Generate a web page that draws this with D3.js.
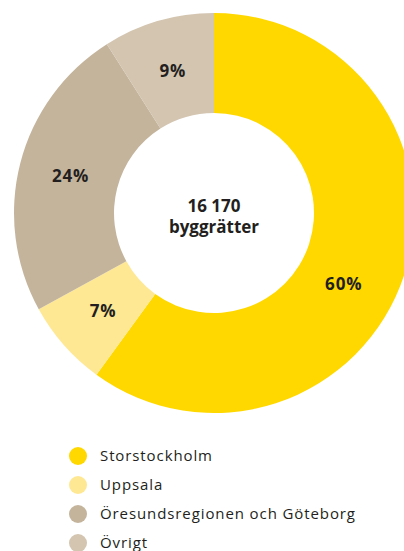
<!DOCTYPE html>
<html>
  <head>
    <meta charset="utf-8">
    <style>
      body { margin: 0; background: #fff; }
      .pct { font-family: "Open Sans", sans-serif; font-weight: 700; font-size: 17px; fill: #231f20; letter-spacing: 0.8px; }
      .total { font-family: "Open Sans", sans-serif; font-weight: 700; font-size: 17px; fill: #231f20; }
      .legend text { font-family: "Open Sans", sans-serif; font-size: 15px; fill: #231f20; letter-spacing: 0.9px; }
    </style>
  </head>
  <body>
    <script src="https://d3js.org/d3.v7.min.js"></script>
    <script type="text/javascript">

      // data
      var regions = ["Storstockholm", "Uppsala", "Öresundsregionen och Göteborg", "Övrigt"];
      var shares = [60, 7, 24, 9];
      var colors = ["#ffd800", "#ffe893", "#c4b49c", "#d3c5b0"];
      var centreLines = ["16 170", "byggrätter"];

      var w = 404;
      var h = 551;
      var cx = 214;
      var cy = 213;
      var outerR = 200;
      var innerR = 100;
      var labelR = 148;

      var svg = d3.select("body")
        .append("svg")
        .attr("width", w)
        .attr("height", h);

      var pie = d3.pie().sort(null).value(function(d) { return d; });
      var arcs = pie(shares);

      var arc = d3.arc().innerRadius(innerR).outerRadius(outerR);

      var g = svg.append("g")
        .attr("transform", "translate(" + cx + "," + cy + ")");

      // slices
      g.selectAll("path")
        .data(arcs)
        .enter()
        .append("path")
        .attr("d", arc)
        .attr("fill", function(d, i) { return colors[i]; });

      // percentage labels, the big slice label sits a bit further round
      // so it stays inside the visible part of the ring
      function labelAngle(d) {
        var t = d.value > 50 ? 0.55 : 0.5;
        return d.startAngle + t * (d.endAngle - d.startAngle);
      }

      g.selectAll("text.pct")
        .data(arcs)
        .enter()
        .append("text")
        .attr("class", "pct")
        .attr("text-anchor", "middle")
        .attr("dy", "0.35em")
        .attr("transform", function(d) {
          var a = labelAngle(d);
          return "translate(" + (labelR * Math.sin(a)) + "," + (-labelR * Math.cos(a)) + ")";
        })
        .text(function(d) { return d.value + "%"; });

      // centre text
      g.selectAll("text.total")
        .data(centreLines)
        .enter()
        .append("text")
        .attr("class", "total")
        .attr("text-anchor", "middle")
        .attr("y", function(d, i) { return -1 + i * 21; })
        .text(function(d) { return d; });

      // legend
      var legendY = d3.scalePoint()
        .domain(regions)
        .range([456, 543]);

      var legend = svg.append("g").attr("class", "legend");

      var item = legend.selectAll("g")
        .data(regions)
        .enter()
        .append("g")
        .attr("transform", function(d) { return "translate(78," + legendY(d) + ")"; });

      item.append("circle")
        .attr("r", 9)
        .attr("fill", function(d, i) { return colors[i]; });

      item.append("text")
        .attr("x", 22)
        .attr("dy", "0.35em")
        .text(function(d) { return d; });

    </script>
  </body>
</html>
